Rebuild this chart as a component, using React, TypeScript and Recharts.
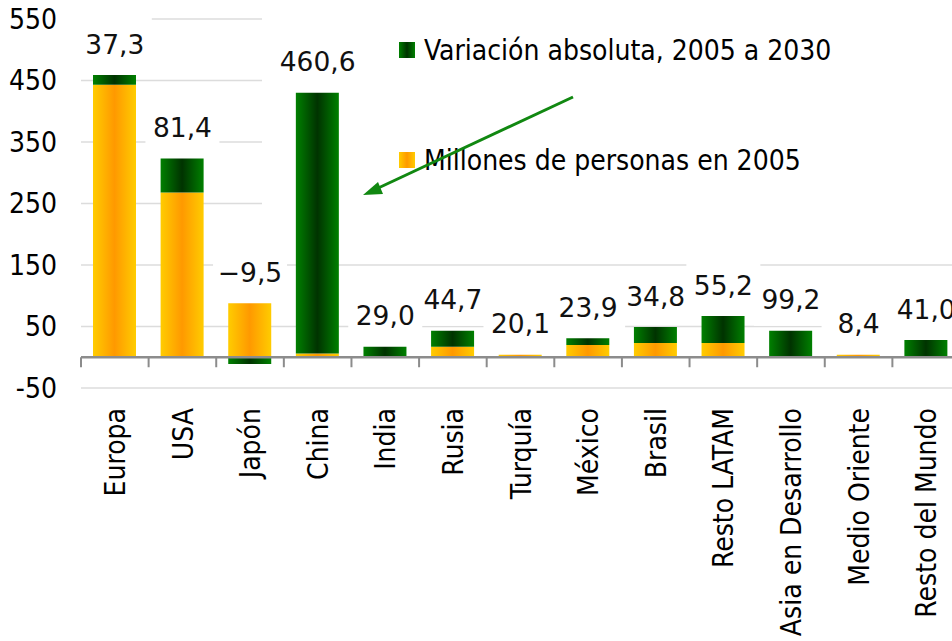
import React from "react";
import {
  ComposedChart,
  Bar,
  Line,
  XAxis,
  YAxis,
  CartesianGrid,
  ReferenceLine,
  LabelList,
  Legend,
} from "recharts";

// categorías del eje X
const categories = [
  "Europa",
  "USA",
  "Japón",
  "China",
  "India",
  "Rusia",
  "Turquía",
  "México",
  "Brasil",
  "Resto LATAM",
  "Asia en Desarrollo",
  "Medio Oriente",
  "Resto del Mundo",
];

// millones de personas en 2005 (barra naranja)
const base2005 = [443, 268, 88, 6, 0, 17, 4, 20, 23, 23, 0, 4, 0];

// variación absoluta 2005 a 2030 (barra verde)
const variation = [16, 55, -11, 424, 17, 26, 0, 11, 26, 44, 43, 0, 28];

// etiquetas sobre cada columna
const topLabels = [
  "37,3",
  "81,4",
  "−9,5",
  "460,6",
  "29,0",
  "44,7",
  "20,1",
  "23,9",
  "34,8",
  "55,2",
  "99,2",
  "8,4",
  "41,0",
];

const yTicks = [-50, 50, 150, 250, 350, 450, 550];

const AXIS_FONT = "'DejaVu Sans Condensed', 'DejaVu Sans', sans-serif";
const LABEL_FONT = "'DejaVu Sans', sans-serif";

// la leyenda tapa la rejilla arriba a la derecha
const LEGEND_LEFT = 262;
const LEGEND_BOTTOM = 225;

const chartData = categories.map((name, i) => ({
  name,
  base: base2005[i],
  variation: variation[i],
  top: base2005[i] + Math.max(variation[i], 0),
  label: topLabels[i],
}));

function GridLine(props: any) {
  const { x1, x2, y1, y2 } = props;
  const end = y1 < LEGEND_BOTTOM ? Math.min(LEGEND_LEFT, x2) : x2;
  return (
    <line
      x1={x1}
      x2={end}
      y1={y1}
      y2={y2}
      stroke="#dcdcdc"
      strokeWidth={1.5}
    />
  );
}

// eje en cero con marcas entre categorías
function ZeroAxis(props: any) {
  const { x1, x2, y1 } = props;
  const n = categories.length;
  const step = (x2 - x1) / n;
  return (
    <g>
      <line x1={x1} x2={x2} y1={y1} y2={y1} stroke="#8c8c8c" strokeWidth={2.5} />
      {Array.from({ length: n + 1 }).map((_, i) => (
        <line
          key={i}
          x1={x1 + i * step}
          x2={x1 + i * step}
          y1={y1}
          y2={y1 + 10}
          stroke="#8c8c8c"
          strokeWidth={2}
        />
      ))}
    </g>
  );
}

function CategoryTick({ x, y, payload }: any) {
  return (
    <text
      transform={`translate(${x},${y + 12}) rotate(-90)`}
      textAnchor="end"
      dy="0.36em"
      fontSize={28}
      fontFamily={AXIS_FONT}
      fill="#000"
    >
      {payload.value}
    </text>
  );
}

function TopLabel(props: any) {
  const x = props.x ?? props.viewBox?.x;
  const y = props.y ?? props.viewBox?.y;
  const cy = y - 31;
  return (
    <g>
      <rect x={x - 37} y={cy - 26} width={74} height={52} fill="#fff" />
      <text
        x={x}
        y={cy}
        dy="0.36em"
        textAnchor="middle"
        fontSize={26.5}
        fontFamily={LABEL_FONT}
        fill="#111"
      >
        {props.value}
      </text>
    </g>
  );
}

function LegendBox() {
  const items = [
    { text: "Variación absoluta, 2005 a 2030", fill: "url(#gGreen)", top: 42 },
    { text: "Millones de personas en 2005", fill: "url(#gOrange)", top: 152 },
  ];
  return (
    <div style={{ position: "relative", width: 540, height: 200 }}>
      {items.map((it) => (
        <div
          key={it.text}
          style={{
            position: "absolute",
            left: 0,
            top: it.top - 12,
            height: 40,
            display: "flex",
            alignItems: "center",
            whiteSpace: "nowrap",
          }}
        >
          <svg width={16} height={16} style={{ marginRight: 9 }}>
            <rect width={16} height={16} fill={it.fill} />
          </svg>
          <span style={{ fontFamily: AXIS_FONT, fontSize: 28, color: "#000" }}>
            {it.text}
          </span>
        </div>
      ))}
    </div>
  );
}

export default function App() {
  return (
    <div
      style={{
        position: "fixed",
        left: 0,
        top: 0,
        width: 952,
        height: 641,
        overflow: "hidden",
        background: "#fff",
      }}
    >
      <svg width={0} height={0} style={{ position: "absolute" }}>
        <defs>
          <linearGradient id="gOrange" x1="0" y1="0" x2="1" y2="0">
            <stop offset="0%" stopColor="#ffcc00" />
            <stop offset="50%" stopColor="#ff9900" />
            <stop offset="100%" stopColor="#ffcc00" />
          </linearGradient>
          <linearGradient id="gGreen" x1="0" y1="0" x2="1" y2="0">
            <stop offset="0%" stopColor="#008000" />
            <stop offset="50%" stopColor="#003300" />
            <stop offset="100%" stopColor="#008000" />
          </linearGradient>
        </defs>
      </svg>

      <ComposedChart
        width={960}
        height={641}
        data={chartData}
        stackOffset="sign"
        margin={{ top: 19, right: 0, bottom: 0, left: 0 }}
      >
        <CartesianGrid vertical={false} horizontal={GridLine} />
        <XAxis
          dataKey="name"
          axisLine={false}
          tickLine={false}
          interval={0}
          height={253}
          tick={<CategoryTick />}
        />
        <YAxis
          domain={[-50, 550]}
          ticks={yTicks}
          width={81}
          axisLine={false}
          tickLine={false}
          tickMargin={18}
          tick={{ fontSize: 28, fill: "#000", fontFamily: AXIS_FONT }}
        />
        <Legend
          layout="horizontal"
          verticalAlign="middle"
          align="center"
          wrapperStyle={{ left: 399, top: 0, width: 540 }}
          content={() => <LegendBox />}
        />
        <Bar
          dataKey="base"
          stackId="a"
          fill="url(#gOrange)"
          barSize={43}
          isAnimationActive={false}
        />
        <Bar
          dataKey="variation"
          stackId="a"
          fill="url(#gGreen)"
          barSize={43}
          isAnimationActive={false}
        />
        <Line
          dataKey="top"
          stroke="none"
          dot={false}
          activeDot={false}
          legendType="none"
          isAnimationActive={false}
        >
          <LabelList dataKey="label" content={<TopLabel />} />
        </Line>
        <ReferenceLine y={0} shape={<ZeroAxis />} />
      </ComposedChart>

      <svg
        width={952}
        height={641}
        style={{ position: "absolute", left: 0, top: 0, pointerEvents: "none" }}
      >
        <line x1={573} y1={97} x2={374} y2={190} stroke="#118811" strokeWidth={3} />
        <polygon points="363,195 378,182 383,194" fill="#118811" />
      </svg>
    </div>
  );
}
